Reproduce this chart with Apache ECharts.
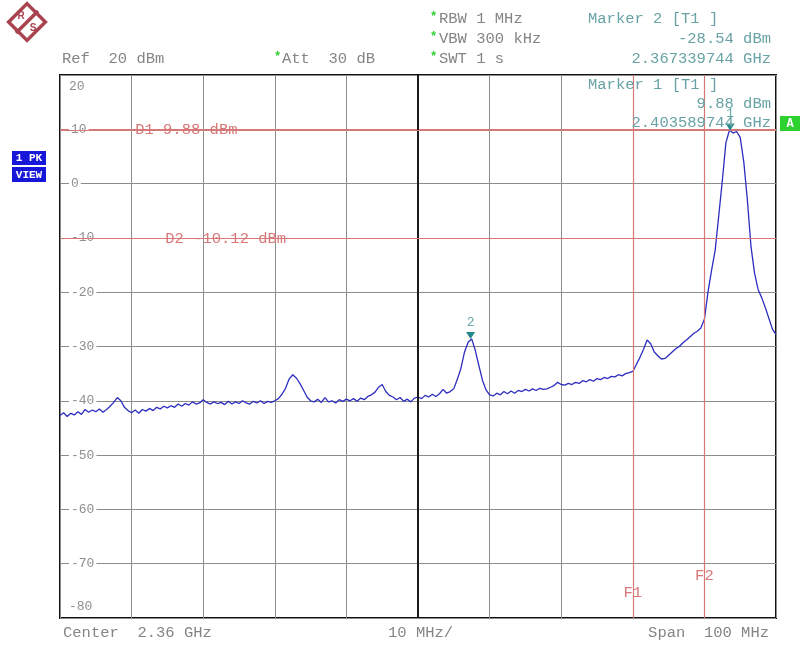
<!DOCTYPE html>
<html>
<head>
<meta charset="utf-8">
<title>Spectrum 2.36 GHz</title>
<script src="https://cdn.jsdelivr.net/npm/echarts@6/dist/echarts.min.js"></script>
<style>
  html, body { margin: 0; padding: 0; background: #fff; }
  #main { width: 800px; height: 645px; }
</style>
</head>
<body>
<div id="main"></div>
<script>
// trace: one level every 0.5 MHz from 2310 MHz to 2410 MHz
var startMHz = 2310;
var stepMHz = 0.5;
var levels = [
  -42.7, -42.2, -42.9, -42.3, -42.6, -42.0, -42.5, -41.6, -42.1, -41.7, -42.0,
  -41.5, -42.1, -41.6, -41.0, -40.3, -39.4, -40.0, -41.2, -41.8, -42.2,
  -41.7, -42.3, -41.6, -41.9, -41.4, -41.8, -41.2, -41.5, -41.0, -41.3,
  -40.9, -41.2, -40.6, -41.0, -40.5, -40.8, -40.2, -40.6, -40.4, -39.8,
  -40.3, -40.6, -40.2, -40.5, -40.3, -40.7, -40.1, -40.6, -40.2, -40.5,
  -40.0, -40.4, -40.6, -40.1, -40.4, -40.0, -40.5, -40.1, -40.3, -40.0,
  -39.6, -38.8, -37.7, -36.0, -35.2, -35.8, -36.8, -38.0, -39.3, -40.0,
  -40.2, -39.7, -40.3, -39.4, -40.2, -40.0, -40.4, -39.8, -40.1, -39.7,
  -40.0, -39.6, -40.1, -39.5, -39.8, -39.2, -38.9, -38.4, -37.5, -37.0,
  -38.3, -39.0, -39.3, -39.8, -39.4, -40.1, -39.7, -40.2, -39.5, -39.3,
  -39.6, -39.0, -39.3, -38.8, -39.2, -38.7, -37.9, -38.6, -38.3, -37.8,
  -36.0, -34.0, -31.0, -29.2, -28.6, -30.7, -33.5, -36.2, -38.0, -38.9,
  -39.1, -38.6, -38.9, -38.3, -38.7, -38.2, -38.6, -38.1, -38.3, -37.9,
  -38.2, -37.8, -38.1, -37.7, -37.9, -37.8, -37.5, -37.2, -36.6, -37.0,
  -37.1, -36.8, -37.0, -36.6, -36.8, -36.3, -36.5, -36.1, -36.4, -35.9,
  -36.1, -35.7, -35.9, -35.5, -35.6, -35.2, -35.4, -35.0, -34.8, -34.6,
  -33.3, -32.0, -30.5, -28.8, -29.5, -31.0, -31.7, -32.3, -32.2, -31.6,
  -31.0, -30.4, -30.0, -29.3, -28.8, -28.2, -27.6, -27.2, -26.6, -25.0,
  -20.0, -16.0, -12.3, -6.0, 0.5, 7.5, 9.88, 9.3, 9.6, 8.5,
  4.0, -3.0, -11.5, -16.5, -19.5, -21.0, -22.8, -24.8, -26.8, -27.8
];

var refLevel = 20;
var bottomLevel = -80;
var centerMHz = 2360;
var marker1 = [2403.589744, 9.88];
var marker2 = [2367.339744, -28.54];
var displayLines = [9.88, -10.12];     // D1, D2
var freqLines = [2390, 2400];          // F1, F2

var headerLeft = ['Ref  20 dBm', 'Att  30 dB'];
var headerMid = ['RBW 1 MHz', 'VBW 300 kHz', 'SWT 1 s'];
var marker2Text = ['Marker 2 [T1 ]', '-28.54 dBm', '2.367339744 GHz'];
var marker1Text = ['Marker 1 [T1 ]', '9.88 dBm', '2.403589744 GHz'];
var footer = ['Center  2.36 GHz', '10 MHz/', 'Span  100 MHz'];

var trace = levels.map(function (v, i) { return [startMHz + i * stepMHz, v]; });

var MONO = '"Liberation Mono", "DejaVu Sans Mono", monospace';
var GRAY = '#858585';
var TEAL = '#68a2a5';
var RED = '#d67878';
var GRID = '#8c8c8c';

function txt(x, y, s, color, align, size, weight) {
  return {
    type: 'text', x: x, y: y, z: 100,
    style: {
      text: s, fill: color, align: align || 'left', verticalAlign: 'middle',
      font: (weight || 'normal') + ' ' + (size || 15.5) + 'px ' + MONO
    }
  };
}

// split line colours, one per tick from min to max
var xGridColors = [GRID, GRID, GRID, GRID, GRID, '#1a1a1a', GRID, GRID, RED, RED, GRID];
var yGridColors = [GRID, GRID, GRID, GRID, GRID, GRID, GRID, RED, GRID, RED, GRID];

var chart = echarts.init(document.getElementById('main'));

var option = {
  animation: false,
  backgroundColor: '#fff',
  grid: { left: 60, top: 75, width: 716, height: 543, show: true, borderColor: '#111', borderWidth: 2 },
  xAxis: {
    type: 'value', min: startMHz, max: startMHz + 100, interval: 10,
    axisLine: { show: false }, axisTick: { show: false }, axisLabel: { show: false },
    splitLine: { lineStyle: { color: xGridColors, width: 1 } }
  },
  yAxis: {
    type: 'value', min: bottomLevel, max: refLevel, interval: 10,
    axisLine: { show: false }, axisTick: { show: false },
    splitLine: { lineStyle: { color: yGridColors, width: 1 } },
    axisLabel: {
      inside: true, margin: 9, color: '#8f8f8f', fontFamily: MONO, fontSize: 13,
      formatter: function (v) {
        if (v === refLevel) return '{t|' + v + '}';
        if (v === bottomLevel) return '{b|' + v + '}';
        return '{n|' + v + '}';
      },
      rich: {
        t: { padding: [23, 0, 0, 0], color: '#8f8f8f', fontFamily: MONO, fontSize: 13 },
        b: { padding: [0, 0, 23, 0], color: '#8f8f8f', fontFamily: MONO, fontSize: 13 },
        n: { backgroundColor: '#fff', padding: [0, 2], color: '#8f8f8f', fontFamily: MONO, fontSize: 13 }
      }
    }
  },
  series: [{
    type: 'line',
    data: trace,
    showSymbol: false,
    lineStyle: { color: '#2d2dbf', width: 1.3 },
    z: 3,
    markLine: {
      silent: true, symbol: 'none', label: { show: false }, animation: false,
      data: [
        { xAxis: centerMHz, lineStyle: { color: '#1a1a1a', width: 2, type: 'solid' } },
        { yAxis: displayLines[0], lineStyle: { color: RED, width: 1, type: 'solid' } },
        { yAxis: displayLines[1], lineStyle: { color: RED, width: 1, type: 'solid' } },
        { xAxis: freqLines[0], lineStyle: { color: RED, width: 1.2, type: 'solid' } },
        { xAxis: freqLines[1], lineStyle: { color: RED, width: 1.2, type: 'solid' } }
      ]
    },
    markPoint: {
      symbol: 'triangle', symbolRotate: 180, symbolSize: [9, 7], symbolOffset: [0, -3],
      itemStyle: { color: '#23878a' },
      label: { show: true, position: 'top', distance: 3, color: '#6aaaaa', fontFamily: MONO, fontSize: 13, formatter: '{b}' },
      data: [
        { name: '1', coord: marker1 },
        { name: '2', coord: marker2 }
      ]
    }
  }]
};
chart.setOption(option);

function px(p) { return chart.convertToPixel({ gridIndex: 0 }, p); }

var d1 = px([2320.5, displayLines[0]]);
var d2 = px([2324.7, displayLines[1]]);
var f1 = px([freqLines[0], -75.3]);
var f2 = px([freqLines[1], -72.2]);

var g = [];
// logo
g.push({
  type: 'group', x: 27, y: 22, z: 100,
  children: [
    { type: 'rect', rotation: Math.PI / 4, shape: { x: -13, y: -13, width: 26, height: 26 },
      style: { fill: '#fff', stroke: '#a8434f', lineWidth: 3.5 } },
    { type: 'line', shape: { x1: 11, y1: -11, x2: -11, y2: 11 }, style: { stroke: '#a8434f', lineWidth: 3.5 } },
    { type: 'text', x: -6, y: -6, style: { text: 'R', fill: '#a8434f', font: 'bold 10px sans-serif', align: 'center', verticalAlign: 'middle' } },
    { type: 'text', x: 6, y: 6, style: { text: 'S', fill: '#a8434f', font: 'bold 10px sans-serif', align: 'center', verticalAlign: 'middle' } }
  ]
});
// header
g.push(txt(62, 59, headerLeft[0], GRAY));
g.push(txt(274, 57, '*', '#2fcf2f', 'left', 12, 'bold'));
g.push(txt(282, 59, headerLeft[1], GRAY));
headerMid.forEach(function (s, i) {
  g.push(txt(430, 17 + i * 20, '*', '#2fcf2f', 'left', 12, 'bold'));
  g.push(txt(439, 19 + i * 20, s, GRAY));
});
g.push(txt(588, 19, marker2Text[0], TEAL));
g.push(txt(771, 39, marker2Text[1], TEAL, 'right'));
g.push(txt(771, 59, marker2Text[2], TEAL, 'right'));
g.push(txt(588, 85, marker1Text[0], TEAL));
g.push(txt(771, 104, marker1Text[1], TEAL, 'right'));
g.push(txt(771, 123, marker1Text[2], TEAL, 'right'));
// display line / frequency line labels
g.push(txt(d1[0], d1[1], 'D1 9.88 dBm', RED));
g.push(txt(d2[0], d2[1], 'D2 -10.12 dBm', RED));
g.push(txt(f1[0], f1[1], 'F1', RED, 'center'));
g.push(txt(f2[0], f2[1], 'F2', RED, 'center'));
// side boxes
g.push({ type: 'rect', z: 100, shape: { x: 12, y: 151, width: 34, height: 14 }, style: { fill: '#1717d9' } });
g.push(txt(29, 158, '1 PK', '#fff', 'center', 11, 'bold'));
g.push({ type: 'rect', z: 100, shape: { x: 12, y: 167, width: 34, height: 15 }, style: { fill: '#1717d9' } });
g.push(txt(29, 175, 'VIEW', '#fff', 'center', 11, 'bold'));
g.push({ type: 'rect', z: 100, shape: { x: 780, y: 116, width: 20, height: 15 }, style: { fill: '#2fd12f' } });
g.push(txt(790, 124, 'A', '#fff', 'center', 12, 'bold'));
// footer
g.push(txt(63, 633, footer[0], GRAY));
g.push(txt(388, 633, footer[1], GRAY));
g.push(txt(769, 633, footer[2], GRAY, 'right'));

chart.setOption({ graphic: g });
</script>
</body>
</html>
